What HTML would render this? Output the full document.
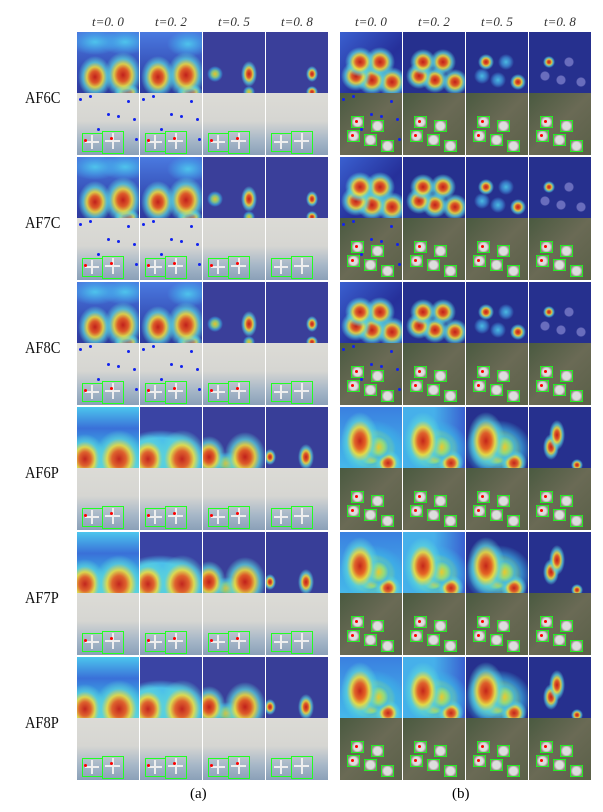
<!DOCTYPE html>
<html><head><meta charset="utf-8"><style>
body{margin:0;width:603px;height:812px;background:#fff;position:relative;overflow:hidden;font-family:"Liberation Serif",serif}
.c{position:absolute;overflow:hidden}
.lab{position:absolute;font-size:17px;color:#111;transform:scaleX(0.85);transform-origin:left}
.hd{position:absolute;top:14px;font-size:13px;font-style:italic;color:#333;width:62px;text-align:center}
</style></head><body>
<div id="r"></div>
<div class="lab" style="left:25px;top:88px">AF6C</div>
<div class="lab" style="left:25px;top:213px">AF7C</div>
<div class="lab" style="left:25px;top:338px">AF8C</div>
<div class="lab" style="left:25px;top:463px">AF6P</div>
<div class="lab" style="left:25px;top:588px">AF7P</div>
<div class="lab" style="left:25px;top:713px">AF8P</div>
<div style="position:absolute;left:190px;top:786px;font-size:15px">(a)</div>
<div style="position:absolute;left:452px;top:786px;font-size:15px">(b)</div>
<script>
var L=[77,140,203,266],R=[340,403,466,529],T=["t=0. 0","t=0. 2","t=0. 5","t=0. 8"];
var h='';
L.concat(R).forEach(function(x,i){h+='<div class="hd" style="left:'+x+'px">'+T[i%4]+'</div>';});
function blob(x,y,rx,ry,s){
 rx=Math.round(rx*2.1);ry=Math.round(ry*2.1);
 var c=s>0.7?'rgba(200,30,20,.95) 0%,rgba(235,90,30,.92) 28%,rgba(240,220,60,.88) 48%,rgba(90,210,220,.75) 70%,rgba(60,120,220,0) 100%':
 s>0.4?'rgba(240,200,40,.95) 0%,rgba(150,220,120,.85) 40%,rgba(60,180,230,.65) 70%,rgba(60,120,220,0) 100%':
 'rgba(80,210,240,.85) 0%,rgba(70,170,235,.6) 55%,rgba(60,120,220,0) 100%';
 return 'radial-gradient(ellipse '+rx+'px '+ry+'px at '+x+'px '+y+'px,'+c+')';}
function heat(side,type,t){
 var b=[];
 if(side==0){
  if(type=='C'){
   if(t==0){b=[blob(18,45,8,10,.9),blob(46,43,9,11,.95),blob(50,60,6,4,.9),blob(18,10,12,6,.2),blob(48,10,12,6,.2)];}
   else if(t==1){b=[blob(18,45,8,10,.9),blob(46,43,9,11,.95),blob(50,60,6,4,.9),blob(48,12,10,6,.2)];}
   else if(t==2){b=[blob(12,42,4,4,.5),blob(46,42,4,6,.9),blob(46,60,3,3,.5)];}
   else b=[blob(46,42,3,4,.8),blob(46,60,3,3,.8)];
   return b.join(',')+(t<2?',linear-gradient(#4a7ae0,#3348b0 70%,#2f3a9e)':',#3a3f9a');
  } else {
   if(t==0){b=[blob(42,52,12,14,.95),blob(8,52,10,12,.9)];return b.join(',')+',linear-gradient(#4cc6ee,#3a70d8 35%,#39b0e6 70%,#5cd0e0)';}
   if(t==1){b=[blob(42,52,12,14,.95),blob(8,52,10,12,.9)];return b.join(',')+',radial-gradient(ellipse 60px 40px at 20px 55px,#4cc0ea 60%,rgba(0,0,0,0) 80%),#3a44a4';}
   if(t==2){b=[blob(42,50,10,12,.95),blob(6,50,8,10,.9),blob(25,56,10,5,.5)];return b.join(',')+',#3a3f9a';}
   b=[blob(40,50,4,6,.85),blob(4,50,3,4,.8)];return b.join(',')+',#383e98';
  }
 } else {
  if(type=='C'){
   var P=[[20,30],[40,30],[16,44],[32,48],[52,50]];
   b=P.map(function(p,i){var s=t==0?.9:t==1?(i<2?.9:.75):t==2?(i==0||i==4?.75:.3):(i==0?.8:.1);var r=t==0?7:t==1?6:t==2?4:3;return s>.2?blob(p[0],p[1],r,r,s):'radial-gradient(circle 5px at '+p[0]+'px '+p[1]+'px,rgba(150,150,220,.6) 80%,rgba(0,0,0,0))';});
   return b.join(',')+(t==0?',linear-gradient(135deg,#3a60d0,#26309a 60%,#2a3aa8)':',#26308e');
  } else {
   if(t<3){b=[blob(20,34,9,14,.95),blob(38,40,7,7,.6),blob(48,56,6,6,.8),blob(30,52,6,4,.5),blob(32,42,16,14,.5)];
    return b.join(',')+(t==0?',linear-gradient(#3a80e0,#46b8ea)':t==1?',linear-gradient(90deg,#46b0ea 50%,#3a60d0)':',#26308e');}
   b=[blob(28,28,4,7,.85),blob(22,40,4,6,.85),blob(48,58,3,3,.8)];return b.join(',')+',#26308e';
  }
 }
}
var dots=[[2,5],[30,20],[50,7],[56,25],[20,35],[40,22],[58,45],[12,2]];
function photo(side,t,g){
 var s='';
 if(side==0){
  s+='<div class="c" style="left:0;top:0;width:62px;height:62px;background:linear-gradient(#dcdbd6,#d6d6d2 45%,#a8b8c8 75%,#8aa0b8)"></div>';
  s+='<div class="c" style="left:5px;top:40px;width:19px;height:17px;border:1px solid #2f2"></div><div class="c" style="left:25px;top:38px;width:20px;height:21px;border:1px solid #2f2"></div>';
  s+='<div class="c" style="left:8px;top:48px;width:14px;height:2px;background:#eee"></div><div class="c" style="left:28px;top:47px;width:15px;height:2px;background:#eee"></div>';
  s+='<div class="c" style="left:14px;top:42px;width:2px;height:14px;background:#eee"></div><div class="c" style="left:35px;top:40px;width:2px;height:16px;background:#eee"></div>';
  if(t<3){s+='<div class="c" style="left:7px;top:46px;width:3px;height:3px;border-radius:50%;background:red"></div><div class="c" style="left:33px;top:44px;width:3px;height:3px;border-radius:50%;background:red"></div>';}
  if(t<2&&g<3)dots.forEach(function(d){s+='<div class="c" style="left:'+d[0]+'px;top:'+d[1]+'px;width:3px;height:3px;border-radius:50%;background:#12e"></div>';});
 } else {
  s+='<div class="c" style="left:0;top:0;width:62px;height:62px;background:linear-gradient(135deg,#4a5a40,#6a6a55 50%,#5a6048)"></div>';
  [[17,29],[37,33],[13,43],[30,47],[47,53]].forEach(function(p){s+='<div class="c" style="left:'+(p[0]-6)+'px;top:'+(p[1]-6)+'px;width:11px;height:10px;border:1px solid #2e2;background:radial-gradient(circle,#ddd 50%,#8a8a7a 80%)"></div>';});
  s+='<div class="c" style="left:15px;top:27px;width:3px;height:3px;border-radius:50%;background:red"></div><div class="c" style="left:11px;top:41px;width:3px;height:3px;border-radius:50%;background:red"></div>';
  if(t==0&&g<3)dots.forEach(function(d){s+='<div class="c" style="left:'+d[0]+'px;top:'+d[1]+'px;width:3px;height:3px;border-radius:50%;background:#12e"></div>';});
 }
 return s;
}
var types=['C','C','C','P','P','P'];
for(var g=0;g<6;g++){
 var y=32+g*125;
 [L,R].forEach(function(X,side){
  X.forEach(function(x,t){
   h+='<div class="c" style="left:'+x+'px;top:'+y+'px;width:62px;height:61px;background:'+heat(side,types[g],t)+'"></div>';
   h+='<div class="c" style="left:'+x+'px;top:'+(y+61)+'px;width:62px;height:62px">'+photo(side,t,g)+'</div>';
  });
 });
}
document.getElementById('r').innerHTML=h;
</script>
</body></html>
